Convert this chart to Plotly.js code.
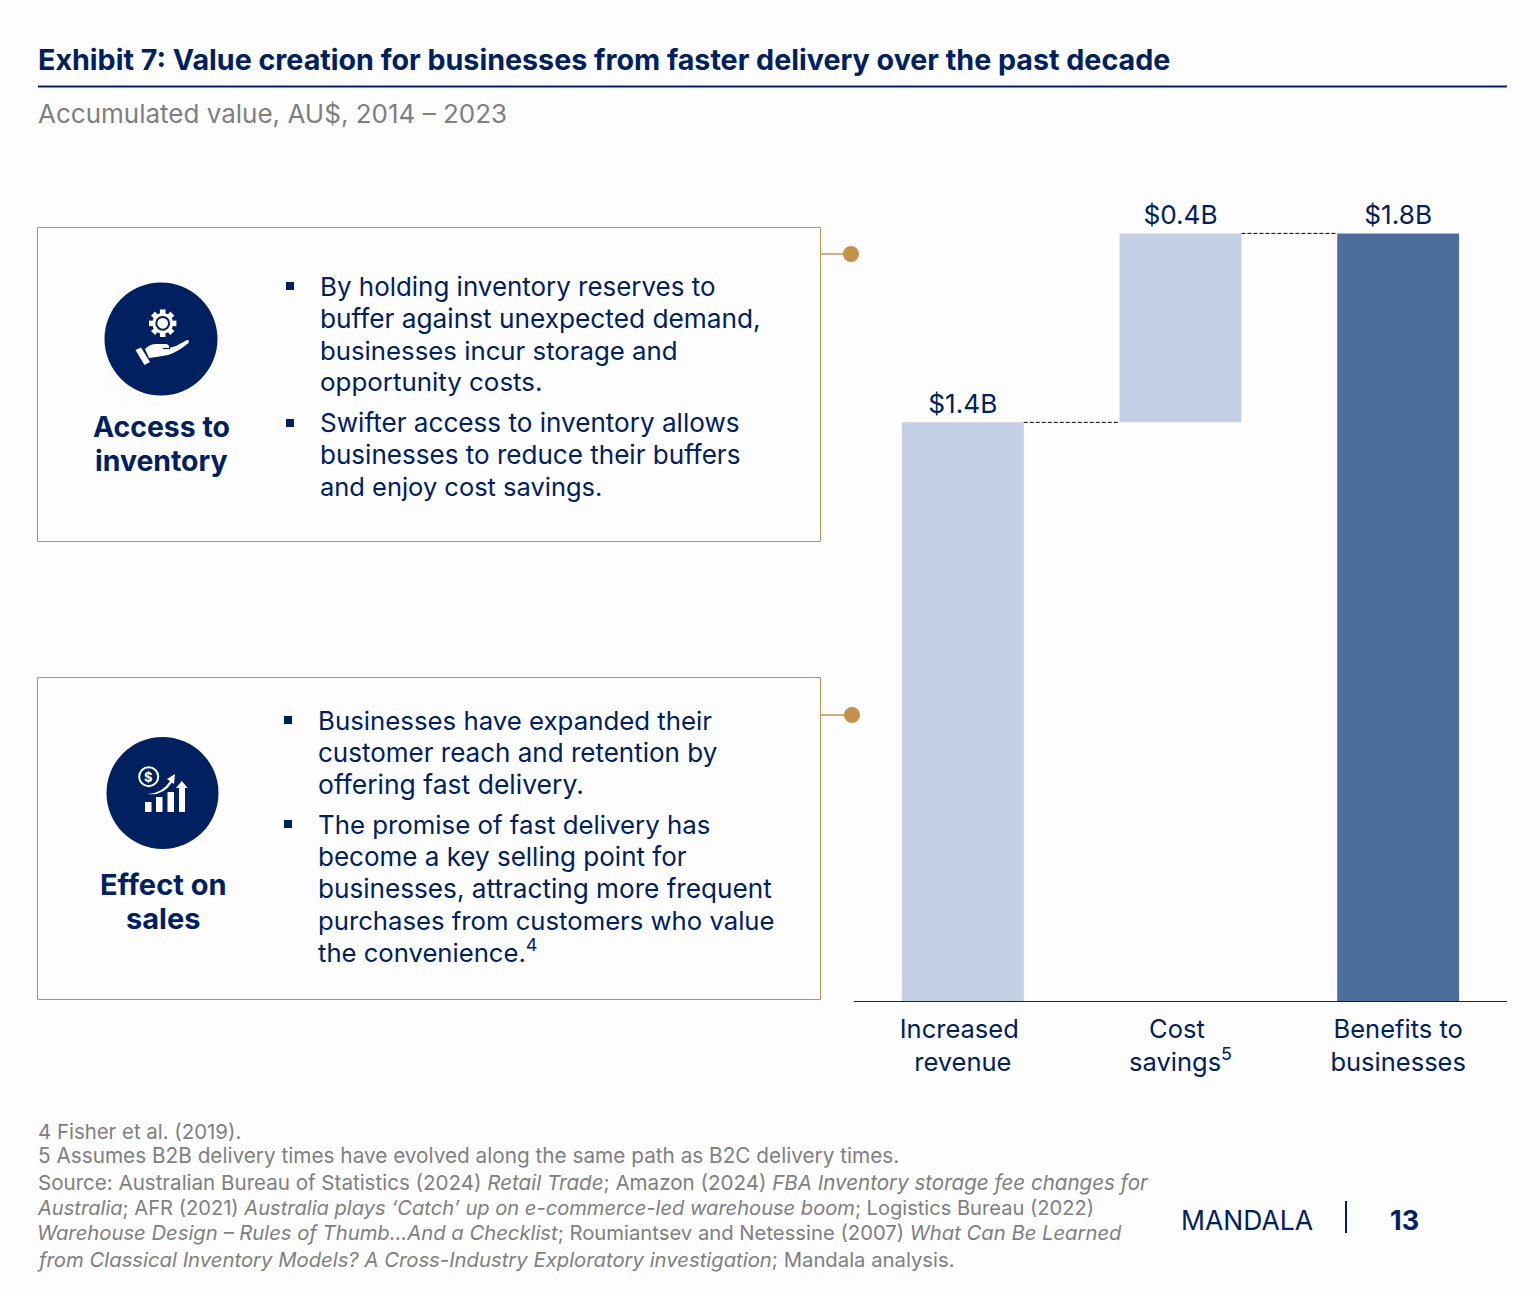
<!DOCTYPE html>
<html><head><meta charset="utf-8">
<script src="https://cdn.plot.ly/plotly-3.0.1.min.js"></script>
<style>html,body{margin:0;padding:0;background:#fdfdfd}#chart{width:1538px;height:1296px}</style>
</head><body><div id="chart"></div>
<script>
const titleText = "Exhibit 7: Value creation for businesses from faster delivery over the past decade";
const subtitleText = "Accumulated value, AU$, 2014 – 2023";
const categories = ["Increased\u00A0<br>revenue", "Cost\u00A0<br>savings<sup>5</sup>", "Benefits to<br>businesses"];
const barBases = [0, 1.3575, 0];
const barValues = [1.3575, 0.4425, 1.80];
const barLabels = ["$1.4B", "$0.4B", "$1.8B"];
const barColors = ["#C3CFE2", "#C3CFE2", "#4D6D9B"];
const box1Heading = ["Access to", "inventory"];
const box2Heading = ["Effect on", "sales"];
const box1Lines = ["By holding inventory reserves to", "buffer against unexpected demand,", "businesses incur storage and", "opportunity costs.", "Swifter access to inventory allows", "businesses to reduce their buffers", "and enjoy cost savings."];
const box2Lines = ["Businesses have expanded their", "customer reach and retention by", "offering fast delivery.", "The promise of fast delivery has", "become a key selling point for", "businesses, attracting more frequent", "purchases from customers who value", "the convenience.<sup>4</sup>"];
const footLines = ["4 Fisher et al. (2019).",
 "5 Assumes B2B delivery times have evolved along the same path as B2C delivery times.",
 "Source: Australian Bureau of Statistics (2024) <i>Retail Trade</i>; Amazon (2024) <i>FBA Inventory storage fee changes for</i>",
 "<i>Australia</i>; AFR (2021) <i>Australia plays ‘Catch’ up on e-commerce-led warehouse boom</i>; Logistics Bureau (2022)",
 "<i>Warehouse Design – Rules of Thumb…And a Checklist</i>; Roumiantsev and Netessine (2007) <i>What Can Be Learned</i>",
 "<i>from Classical Inventory Models? A Cross-Industry Exploratory investigation</i>; Mandala analysis."];
const brandText = "MANDALA";
const pageText = "13";

const W = 1538, H = 1296, NAVY = "#002060", GOLD = "#C4914A", GREY = "#7F7F7F", FONT = "Inter, 'Open Sans', sans-serif";
const fx = x => x / W, fy = y => 1 - y / H;
const shapes = [], annotations = [];
const rect = (x0, y0, x1, y1, o) => shapes.push(Object.assign({type:"rect", xref:"paper", yref:"paper", x0:fx(x0), x1:fx(x1), y0:fy(y0), y1:fy(y1), line:{width:0}}, o));
const circle = (cx, cy, r, fill, line) => shapes.push({type:"circle", xref:"paper", yref:"paper", x0:fx(cx-r), x1:fx(cx+r), y0:fy(cy-r), y1:fy(cy+r), fillcolor:fill, line:line||{width:0}});
const seg = (x0, y0, x1, y1, color, width) => shapes.push({type:"line", xref:"paper", yref:"paper", x0:fx(x0), x1:fx(x1), y0:fy(y0), y1:fy(y1), line:{color, width}});
const path = (pts, fill, line) => {
  const tokens = pts.trim().split(/\s+/); let out = "", isX = true;
  tokens.forEach(t => { if (/^[A-Z]$/.test(t)) out += t + " "; else { out += (isX ? fx(+t) : fy(+t)).toFixed(5) + " "; isX = !isX; } });
  shapes.push({type:"path", xref:"paper", yref:"paper", path:out.trim(), fillcolor:fill, line:line||{width:0}});
};
const text = (s, x, y, size, color, anchor, bold) => annotations.push({text: bold ? "<b>"+s+"</b>" : s, xref:"paper", yref:"paper", x:fx(x), y:fy(y), xanchor:anchor||"left", yanchor:"middle", showarrow:false, align:anchor==="center"?"center":"left", font:{family:FONT, size, color}, borderpad:0, borderwidth:0});

// header
seg(38, 86.5, 1507, 86.5, NAVY, 2);
text(subtitleText, 38, 113, 26, GREY);

// boxes
rect(37.5, 227.5, 820.5, 541.5, {line:{color:GOLD, width:1}, fillcolor:"rgba(0,0,0,0)"});
rect(37.5, 677.5, 820.5, 999.5, {line:{color:GOLD, width:1}, fillcolor:"rgba(0,0,0,0)"});
seg(821, 254, 845, 254, GOLD, 1.5); circle(851, 254, 8, GOLD);
seg(821, 715, 846, 715, GOLD, 1.5); circle(852, 715, 8, GOLD);

// faint scan speckle under icon 1
path("M 105 366 L 112 370 L 108 376 L 120 380 L 112 388 L 104 391 M 120 390 L 132 384 L 142 388 M 124 396 L 124 404 M 134 396 L 150 394 L 150 402 L 156 404", "rgba(0,0,0,0)", {color:"#ECECEC", width:1, dash:"2px,2px"});

// icon 1: gear + hand
circle(161, 339, 56.5, NAVY);
(function(){ const cx=162.7, cy=323.3; let p="";
  for (let i=0;i<8;i++){ const a=i*Math.PI/4, d=0.21;
    [[a-d*1.2,10.5],[a-d,14],[a+d,14],[a+d*1.2,10.5]].forEach((q,j)=>{p+=(i===0&&j===0?"M ":"L ")+(cx+q[1]*Math.sin(q[0])).toFixed(2)+" "+(cy-q[1]*Math.cos(q[0])).toFixed(2)+" ";});
  }
  path(p+"Z","#fff");
  circle(cx,cy,7.4,NAVY); circle(cx,cy,5.4,"#fff");
})();
path("M 135.5 350 L 141 347.5 L 150 362 L 144.5 365 Z", "#fff");
path("M 145 349 Q 150 344 156 344 L 166 344 Q 170 345 169 348 L 176 346 L 187 340 Q 190 340 188.5 343 Q 178 352 168 355 Q 158 357 149 358 Z", "#fff");
path("M 163 348.5 L 170 348.5", "rgba(0,0,0,0)", {color:NAVY, width:1.2});

// icon 2: coin + bars + arrows
circle(162.5, 793, 56, NAVY);
circle(148.7, 776.7, 9.5, "rgba(0,0,0,0)", {color:"#fff", width:2});
text("$", 148.7, 776.5, 13, "#fff", "center", true);
rect(145, 802, 151.5, 812, {fillcolor:"#fff"});
rect(156, 797, 162.5, 812, {fillcolor:"#fff"});
rect(167.5, 792, 174, 812, {fillcolor:"#fff"});
path("M 179 812 L 179 788 L 176 788 L 181.8 781 L 187.7 788 L 185 788 L 185 812 Z", "#fff");
path("M 148 794 Q 163 793 170 781 L 167 779 L 175 774 L 174 784 L 172 782.5 Q 163 796 148 794 Z", "#fff");

// headings
box1Heading.forEach((s,i)=>text(s, 161, [426,461][i], 28.4, NAVY, "center", true));
box2Heading.forEach((s,i)=>text(s, 163, [884,918][i], 29, NAVY, "center", true));

// box text
const y1 = [286,318,350,382,422,454,486], s1 = [25.93,26.24,25.78,25.9,26.1,26.05,25.46];
const y2 = [720,752,784,824,856,888,920,951], s2 = [25.8,26,26.5,25.8,26,26.15,25.7,25.65];
box1Lines.forEach((s,i)=>text(s, 320, y1[i], s1[i], NAVY));
box2Lines.forEach((s,i)=>text(s, 318, y2[i], s2[i], NAVY));
rect(286, 282, 294, 290, {fillcolor:NAVY}); rect(286, 419, 294, 427, {fillcolor:NAVY});
rect(284, 716, 292, 724, {fillcolor:NAVY}); rect(284, 820, 292, 828, {fillcolor:NAVY});

// footnotes
const yf = [1131,1155,1182,1208,1232,1259], sf = [20.4,20.75,20.55,20.1,20.25,20.3], xf = [38,38,38,37,37,36.5];
footLines.forEach((s,i)=>text(s, xf[i], yf[i], sf[i], GREY));

// brand
text(brandText, 1181, 1220, 26.5, NAVY);
seg(1346, 1201, 1346, 1233, NAVY, 2);
text(pageText, 1390, 1220, 27, NAVY, "left", true);

// waterfall connectors, in data coordinates
const half = 0.28;
shapes.push({type:"line", xref:"x", yref:"y", x0:0+half, x1:1-half, y0:barValues[0], y1:barValues[0], line:{color:"#000", width:1, dash:"4px,2px"}});
shapes.push({type:"line", xref:"x", yref:"y", x0:1+half, x1:2-half, y0:barValues[2], y1:barValues[2], line:{color:"#000", width:1, dash:"4px,2px"}});

const yBase = 1002, pxPerUnit = 427, yTop = yBase - pxPerUnit*2;
Plotly.newPlot("chart", [{
  type:"bar", x:[0,1,2], y:barValues, base:barBases, width:0.56,
  marker:{color:barColors, line:{width:0}}, text:barLabels, textposition:"outside", cliponaxis:false,
  textfont:{family:FONT, size:26.2, color:NAVY}, hoverinfo:"skip"
}], {
  width:W, height:H, margin:{l:0,r:0,t:0,b:0}, paper_bgcolor:"#fdfdfd", plot_bgcolor:"rgba(0,0,0,0)", showlegend:false,
  title:{text:"<b>"+titleText+"</b>", x:fx(38), xanchor:"left", xref:"paper", y:fy(60), yanchor:"middle", yref:"paper", font:{family:FONT, size:28.65, color:NAVY}, pad:{t:0,b:0,l:0,r:0}},
  xaxis:{domain:[fx(854),fx(1507)], range:[-0.5,2.5], tickmode:"array", tickvals:[0,1,2], ticktext:categories, ticks:"outside", ticklen:4, tickwidth:0, tickcolor:"rgba(0,0,0,0)", showgrid:false, zeroline:false, showline:false, tickfont:{family:FONT, size:25.5, color:NAVY}},
  yaxis:{domain:[fy(yBase),fy(yTop)], range:[0,2], visible:false, showgrid:false, zeroline:false},
  shapes:shapes.concat([{type:"line", xref:"x", yref:"y", x0:-0.5, x1:2.5, y0:0, y1:0, line:{color:"#1a2433", width:2}}]),
  annotations
}, {displayModeBar:false, staticPlot:true});
</script></body></html>
